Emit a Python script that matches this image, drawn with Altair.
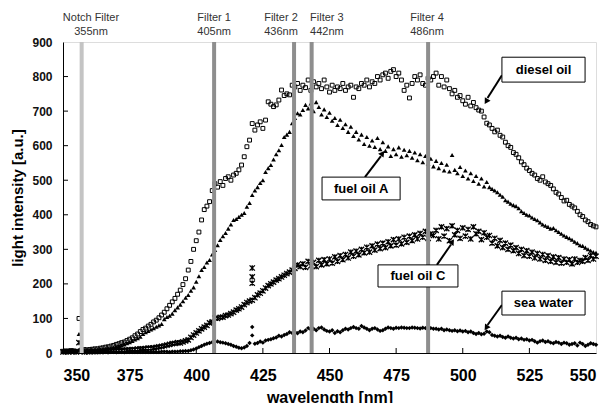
import altair as alt
import pandas as pd

wavelength = list(range(350, 551))

diesel = [
    5, 6, 5, 7, 6, 5, 100, 9, 10, 9,
    10, 11, 12, 12, 14, 15, 17, 18, 20, 22,
    25, 27, 30, 32, 36, 40, 44, 50, 55, 62,
    68, 72, 78, 83, 90, 95, 102, 110, 118, 128,
    138, 148, 158, 170, 182, 198, 215, 240, 265, 300,
    325, 350, 385, 415, 425, 438, 470, 490, 480, 496,
    485, 505, 510, 500, 515, 520, 530, 544, 568, 597,
    616, 664, 645, 660, 669, 650, 674, 727, 720, 713,
    718, 732, 761, 745, 750, 747, 775, 770, 780, 760,
    775, 768, 790, 760, 785, 770, 780, 765, 790, 770,
    755, 775, 760, 770, 765, 780, 760, 770, 775, 740,
    770, 765, 780, 775, 790, 770, 785, 780, 800, 790,
    805, 810, 795, 815, 820, 800, 810, 790, 760, 775,
    738, 780, 800, 790, 805, 780, 775, 795, 790, 800,
    810, 775, 800, 770, 790, 765, 750, 760, 740, 745,
    730, 720, 740, 715, 725, 710, 703, 700, 683, 665,
    660, 650, 640, 645, 630, 625, 610, 600, 595, 580,
    575, 565, 553, 545, 535, 528, 520, 515, 505, 500,
    510, 495, 490, 485, 475, 465, 460, 450, 440, 442,
    430, 425, 420, 410, 400, 395, 385, 380, 372, 368,
    365,
]

fuel_a = [
    4, 5, 4, 6, 5, 4, 55, 7, 6, 7,
    7, 8, 8, 9, 10, 11, 12, 13, 14, 16,
    18, 20, 22, 25, 28, 31, 35, 39, 43, 47,
    55, 60, 64, 68, 72, 76, 80, 84, 98, 104,
    108, 114, 124, 132, 140, 150, 160, 168, 180, 190,
    206, 222, 240, 249, 262, 269, 285, 298, 312, 327,
    338, 347, 360, 372, 385, 388, 394, 400, 405, 423,
    434, 457, 470, 480, 492, 500, 524, 535, 544, 560,
    575, 587, 602, 625, 632, 640, 665, 680, 694, 690,
    703, 718, 708, 722, 700, 726, 712, 690, 705, 683,
    695, 672, 680, 660, 675, 651, 662, 640, 655, 628,
    640, 618, 632, 605, 625, 600, 615, 596, 622, 590,
    610, 585, 598, 570, 590, 575, 595, 568, 588, 572,
    585, 565, 580, 558, 575, 552, 570, 548, 562, 540,
    556, 535, 550, 528, 545, 525, 573, 530, 520, 538,
    512, 528, 505, 520, 498, 512, 490, 505, 482, 495,
    480, 475, 470, 465, 458, 452, 442, 438, 432, 428,
    425, 419, 410, 405, 400, 398, 392, 388, 384, 378,
    372, 368, 365, 360, 362, 355, 350, 345, 340, 336,
    332, 328, 322, 318, 312, 310, 305, 300, 296, 292,
    290,
]

fuel_c = [
    3, 4, 3, 5, 4, 3, 30, 6, 3, 4,
    4, 5, 4, 5, 5, 6, 5, 6, 6, 7,
    7, 8, 7, 8, 9, 9, 10, 10, 11, 12,
    12, 13, 14, 14, 15, 16, 18, 19, 21, 23,
    25, 27, 28, 30, 29, 32, 35, 38, 45, 52,
    58, 64, 70, 75, 80, 87, 90, 101, 100, 103,
    104, 108, 110, 114, 118, 124, 128, 133, 140, 146,
    150, 153, 160, 168, 173, 180, 188, 195, 200, 205,
    211, 215, 220, 225, 230, 234, 240, 245, 255, 250,
    258, 248, 265, 252, 262, 250, 268, 255, 270, 258,
    272, 260, 278, 265, 282, 270, 285, 275, 292, 280,
    295, 284, 300, 290, 306, 292, 310, 298, 315, 302,
    318, 305, 322, 310, 328, 312, 330, 316, 335, 320,
    338, 325, 342, 330, 346, 335, 352, 332, 345, 340,
    355, 330, 365, 338, 360, 325, 368, 342, 355, 332,
    362, 338, 358, 330, 365, 345, 352, 328, 348, 335,
    340, 318, 332, 310, 326, 305, 318, 300, 312, 296,
    305, 288, 300, 282, 296, 280, 292, 275, 288, 272,
    285, 268, 282, 265, 278, 262, 276, 260, 272, 262,
    270, 258, 272, 262, 268, 265, 276, 268, 282, 272,
    280,
]

sea_water = [
    3, 4, 3, 4, 3, 4, 8, 5, 3, 3,
    3, 2, 3, 3, 2, 3, 3, 2, 3, 3,
    2, 3, 3, 2, 3, 3, 3, 3, 3, 3,
    3, 3, 3, 3, 3, 3, 3, 4, 4, 4,
    3, 4, 4, 4, 5, 5, 6, 6, 8, 10,
    13, 17, 20, 24, 27, 29, 31, 32, 33, 31,
    30, 28, 26, 24, 20, 18, 15, 14, 16, 20,
    29, 51, 27, 29, 33, 30, 36, 38, 40, 43,
    45, 50, 48, 52, 55, 60, 58, 61, 57, 62,
    60, 65, 72, 68, 70, 66, 72, 74, 68, 64,
    62, 66, 58, 63, 60, 66, 70, 68, 72, 75,
    72, 70, 78, 74, 70, 66, 70, 72, 68, 64,
    66, 70, 74, 72, 70, 73, 72, 74, 73, 72,
    72, 74, 73, 72, 71, 73, 72, 70, 72, 70,
    70, 68, 70, 66, 68, 66, 64, 66, 63, 65,
    62, 64, 60, 62, 58, 55, 58, 54, 56, 62,
    60, 52, 50, 48, 50, 46, 44, 48, 44, 42,
    44, 40, 42, 38, 40, 36, 38, 34, 30, 34,
    36, 32, 34, 30, 28, 32, 30, 26, 30, 28,
    24, 26, 28, 22, 30, 26, 20, 24, 28, 26,
    24,
]

# stray points
extra_c_x = [421, 421, 421]
extra_c_y = [246, 220, 202]
extra_s_x = [421]
extra_s_y = [75]

# filters
filter_line_nm = [357, 406.7, 436.7, 443.3, 487]
filter_line_color = ["#c4c4c4", "#8e8e8e", "#8e8e8e", "#8e8e8e", "#8e8e8e"]
filter_label_nm = [360.5, 406.7, 431.8, 449.0, 486.6]
filter_name = ["Notch Filter", "Filter 1", "Filter 2", "Filter 3", "Filter 4"]
filter_wave = ["355nm", "405nm", "436nm", "442nm", "486nm"]

# callouts
box_label = ["diesel oil", "fuel oil A", "fuel oil C", "sea water"]
box_x1 = [514.7, 447.2, 468.2, 514.7]
box_x2 = [545.9, 476.5, 498.2, 545.9]
box_y1 = [784, 443, 191, 110]
box_y2 = [856, 509, 255, 179]
arrow_x1 = [514.7, 463.3, 490.3, 514.7]
arrow_y1 = [804, 509, 255, 139]
arrow_x2 = [509.3, 469.3, 495.6, 509.3]
arrow_y2 = [738, 570, 314, 81]
arrow_hx = [508.8, 469.9, 496.1, 508.8]
arrow_hy = [728, 578, 322, 73]
arrow_angle = [211, 36, 33, 214]

x_ticks = [350, 375, 400, 425, 450, 475, 500, 525, 550]
y_ticks = [0, 100, 200, 300, 400, 500, 600, 700, 800, 900]
x_inner_ticks = [375, 400, 425, 450, 475, 500, 525]
y_inner_ticks = [100, 200, 300, 400, 500, 600, 700, 800]

W, H = 533, 311
FONT = "Liberation Sans"

xs = alt.Scale(domain=[350, 550], nice=False, zero=False)
ys = alt.Scale(domain=[0, 900], nice=False)
xaxis = alt.Axis(values=x_ticks, title="wavelength [nm]", ticks=False, tickSize=0,
                 labelFontSize=16, labelFontWeight="bold", labelPadding=14,
                 labelColor="black", titleFontSize=16, titleFontWeight="bold",
                 titleColor="black", titlePadding=6, domainColor="black", grid=False,
                 labelFont=FONT, titleFont=FONT, labelOverlap=False)
yaxis = alt.Axis(values=y_ticks, title="light intensity [a.u.]", ticks=False, tickSize=0,
                 labelFontSize=12, labelFontWeight="bold", labelPadding=11,
                 labelColor="#111111", titleFontSize=15, titleFontWeight="bold",
                 titleColor="black", titlePadding=6, domainColor="black", grid=False,
                 labelFont=FONT, titleFont=FONT, labelOverlap=False)

X = alt.X("x:Q", scale=xs, axis=xaxis)
Y = alt.Y("y:Q", scale=ys, axis=yaxis)

d_df = pd.DataFrame({"x": wavelength, "y": diesel})
a_df = pd.DataFrame({"x": wavelength, "y": fuel_a})
c_df = pd.DataFrame({"x": wavelength + extra_c_x, "y": fuel_c + extra_c_y})
s_df = pd.DataFrame({"x": wavelength + extra_s_x, "y": sea_water + extra_s_y})

sea_layer = alt.Chart(s_df).mark_point(shape="diamond", filled=True, color="black",
                                        size=20, opacity=1).encode(x=X, y=Y)
c_layer = alt.Chart(c_df).mark_point(shape="M-1,-1L1,1M-1,1L1,-1M0,-1L0,1", filled=False,
                                      color="black", strokeWidth=1.3, size=28,
                                      opacity=1).encode(x=X, y=Y)
a_layer = alt.Chart(a_df).mark_point(shape="triangle-up", filled=True, color="black",
                                      size=22, opacity=1).encode(x=X, y=Y)
d_layer = alt.Chart(d_df).mark_point(shape="square", filled=False, color="black",
                                      strokeWidth=1, size=15, opacity=1).encode(x=X, y=Y)

f_df = pd.DataFrame({"x": filter_line_nm, "c": filter_line_color})
f_layer = alt.Chart(f_df).mark_rule(strokeWidth=4).encode(
    x=X, color=alt.Color("c:N", scale=None))

fl_df = pd.DataFrame({"x": filter_label_nm, "n": filter_name, "w": filter_wave})
fl1 = alt.Chart(fl_df).mark_text(fontSize=11, color="#333333", font=FONT,
                                  baseline="middle").encode(
    x=X, y=alt.value(-24), text="n:N")
fl2 = alt.Chart(fl_df).mark_text(fontSize=11, color="#333333", font=FONT,
                                  baseline="middle").encode(
    x=X, y=alt.value(-10), text="w:N")

xt_df = pd.DataFrame({"x": x_inner_ticks})
xt_layer = alt.Chart(xt_df).mark_rule(color="black", strokeWidth=1).encode(
    x=X, y=alt.value(H), y2=alt.value(H - 5))
yt_df = pd.DataFrame({"y": y_inner_ticks})
yt_layer = alt.Chart(yt_df).mark_rule(color="black", strokeWidth=1).encode(
    y=Y, x=alt.value(0), x2=alt.value(5))

ar_df = pd.DataFrame({"x": arrow_x1, "y": arrow_y1, "x2": arrow_x2, "y2": arrow_y2})
ar_layer = alt.Chart(ar_df).mark_rule(color="black", strokeWidth=2).encode(
    x=X, y=Y, x2="x2:Q", y2="y2:Q")
ah_df = pd.DataFrame({"x": arrow_hx, "y": arrow_hy, "ang": arrow_angle})
ah_layer = alt.Chart(ah_df).mark_point(shape="triangle-up", filled=True, color="black",
                                        size=45, opacity=1).encode(
    x=X, y=Y, angle=alt.Angle("ang:Q", scale=None))

bx_df = pd.DataFrame({"x": box_x1, "x2": box_x2, "y": box_y1, "y2": box_y2})
bx_layer = alt.Chart(bx_df).mark_rect(fill="white", stroke="black", strokeWidth=1).encode(
    x=X, x2="x2:Q", y=Y, y2="y2:Q")
bt_df = pd.DataFrame({"x": [(a + b) / 2 for a, b in zip(box_x1, box_x2)],
                      "y": [(a + b) / 2 for a, b in zip(box_y1, box_y2)],
                      "label": box_label})
bt_layer = alt.Chart(bt_df).mark_text(fontSize=13, fontWeight="bold", font=FONT,
                                       color="black").encode(
    x=X, y=Y, text="label:N")

chart = alt.layer(
    sea_layer, c_layer, a_layer, d_layer, f_layer, xt_layer, yt_layer,
    ar_layer, ah_layer, bx_layer, bt_layer, fl1, fl2
).properties(
    width=W, height=H,
    padding={"left": 55, "top": 34, "right": 5, "bottom": 50},
    autosize=alt.AutoSizeParams(type="none"),
).configure_view(stroke="black", strokeWidth=1).configure_axis(
    labelOverlap=False).configure(font=FONT, background="white")

chart.save("out.html", embed_options={"renderer": "svg", "actions": False})
